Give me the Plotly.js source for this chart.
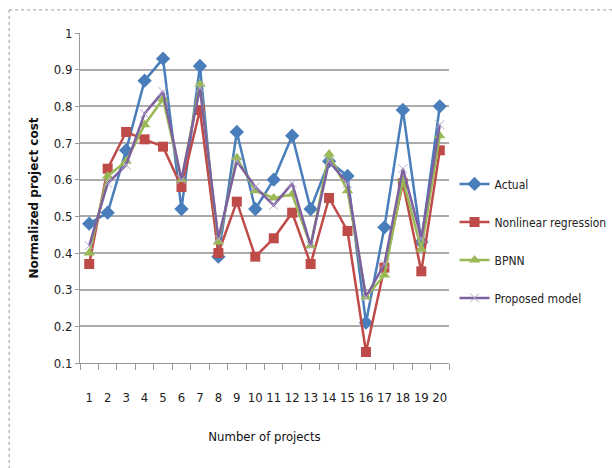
<!DOCTYPE html>
<html><head><meta charset="utf-8">
<script src="https://cdn.plot.ly/plotly-3.0.1.min.js"></script>
<style>body{margin:0;background:#fff}#c{width:612px;height:468px}</style>
</head><body><div id="c"></div>
<script>
var projects = [1,2,3,4,5,6,7,8,9,10,11,12,13,14,15,16,17,18,19,20];
var actual = [0.48,0.51,0.68,0.87,0.93,0.52,0.91,0.39,0.73,0.52,0.60,0.72,0.52,0.65,0.61,0.21,0.47,0.79,0.43,0.80];
var nonlinear = [0.37,0.63,0.73,0.71,0.69,0.58,0.79,0.40,0.54,0.39,0.44,0.51,0.37,0.55,0.46,0.13,0.36,0.59,0.35,0.68];
var bpnn = [0.40,0.61,0.65,0.75,0.82,0.60,0.86,0.43,0.66,0.57,0.55,0.56,0.42,0.67,0.57,0.28,0.34,0.60,0.41,0.72];
var proposed = [0.42,0.59,0.64,0.78,0.84,0.60,0.85,0.44,0.65,0.58,0.53,0.59,0.42,0.65,0.59,0.28,0.37,0.63,0.44,0.75];
var names = ["Actual","Nonlinear regression","BPNN","Proposed model"];
var yTicks = [0.1,0.2,0.3,0.4,0.5,0.6,0.7,0.8,0.9,1];
var yTickText = ["0.1","0.2","0.3","0.4","0.5","0.6","0.7","0.8","0.9","1"];

var narrow = "DejaVu Sans Condensed, Liberation Sans Narrow, sans-serif";
function tr(y, name, color, sym, size, mline){
  return {x: projects, y: y, name: name, type:'scatter', mode:'lines+markers', legendgroup:name,
    line:{color:color, width:2.5},
    marker:{symbol:sym, size:size, color:color, line: mline || {width:0}}};
}
var data = [
  tr(actual, names[0], '#4A7EBB', 'diamond', 11),
  tr(nonlinear, names[1], '#BE4B48', 'square', 10),
  tr(bpnn, names[2], '#98B954', 'triangle-up', 10),
  tr(proposed, names[3], '#7D60A0', 'x-thin', 9, {width:1, color:'#B7A6D0'})
];
var mid = [];
for (var i = 0; i <= 20; i++) mid.push(i + 0.5);
var layout = {
  width:612, height:468,
  margin:{l:80, r:163, t:33, b:105, autoexpand:false},
  paper_bgcolor:'#fff', plot_bgcolor:'#fff',
  font:{family:narrow, size:12, color:'#222'},
  showlegend:true,
  legend:{x:1.015, y:0.37, xanchor:'left', yanchor:'middle', traceorder:'grouped', tracegroupgap:19,
    font:{family:narrow, size:12, color:'#222'}, bgcolor:'rgba(0,0,0,0)'},
  xaxis:{range:[0.5,20.5], tickvals:projects, ticktext:projects.map(String), ticks:'', tickangle:0,
    ticklabelstandoff:22, showgrid:false, zeroline:false, automargin:false,
    showline:true, linecolor:'#999', linewidth:1,
    minor:{tickvals:mid, ticks:'outside', ticklen:6, tickcolor:'#999', showgrid:false},
    tickfont:{family:narrow, size:13, color:'#222'},
    title:{text:'Number of projects', font:{family:narrow, size:13, color:'#111'}, standoff:28}},
  yaxis:{range:[0.1,1], tickvals:yTicks, ticktext:yTickText, ticks:'outside', ticklen:4, tickcolor:'#999',
    showgrid:true, gridcolor:'#ABABAB', gridwidth:2, zeroline:false, automargin:false,
    showline:true, linecolor:'#999', linewidth:1,
    tickfont:{family:narrow, size:13, color:'#222'},
    title:{text:'Normalized project cost', font:{family:'DejaVu Sans, Verdana, sans-serif', size:12, color:'#111', weight:'bold'}, standoff:12}},
  shapes:[
    {type:'line', xref:'paper', yref:'paper', x0:-0.192, x1:-0.192, y0:1.07, y1:-0.32, line:{color:'#999', width:1, dash:'dot'}},
    {type:'line', xref:'paper', yref:'paper', x0:-0.192, x1:1.45, y0:1.07, y1:1.07, line:{color:'#999', width:1, dash:'dot'}}
  ]
};
Plotly.newPlot('c', data, layout, {staticPlot:true});
</script></body></html>
